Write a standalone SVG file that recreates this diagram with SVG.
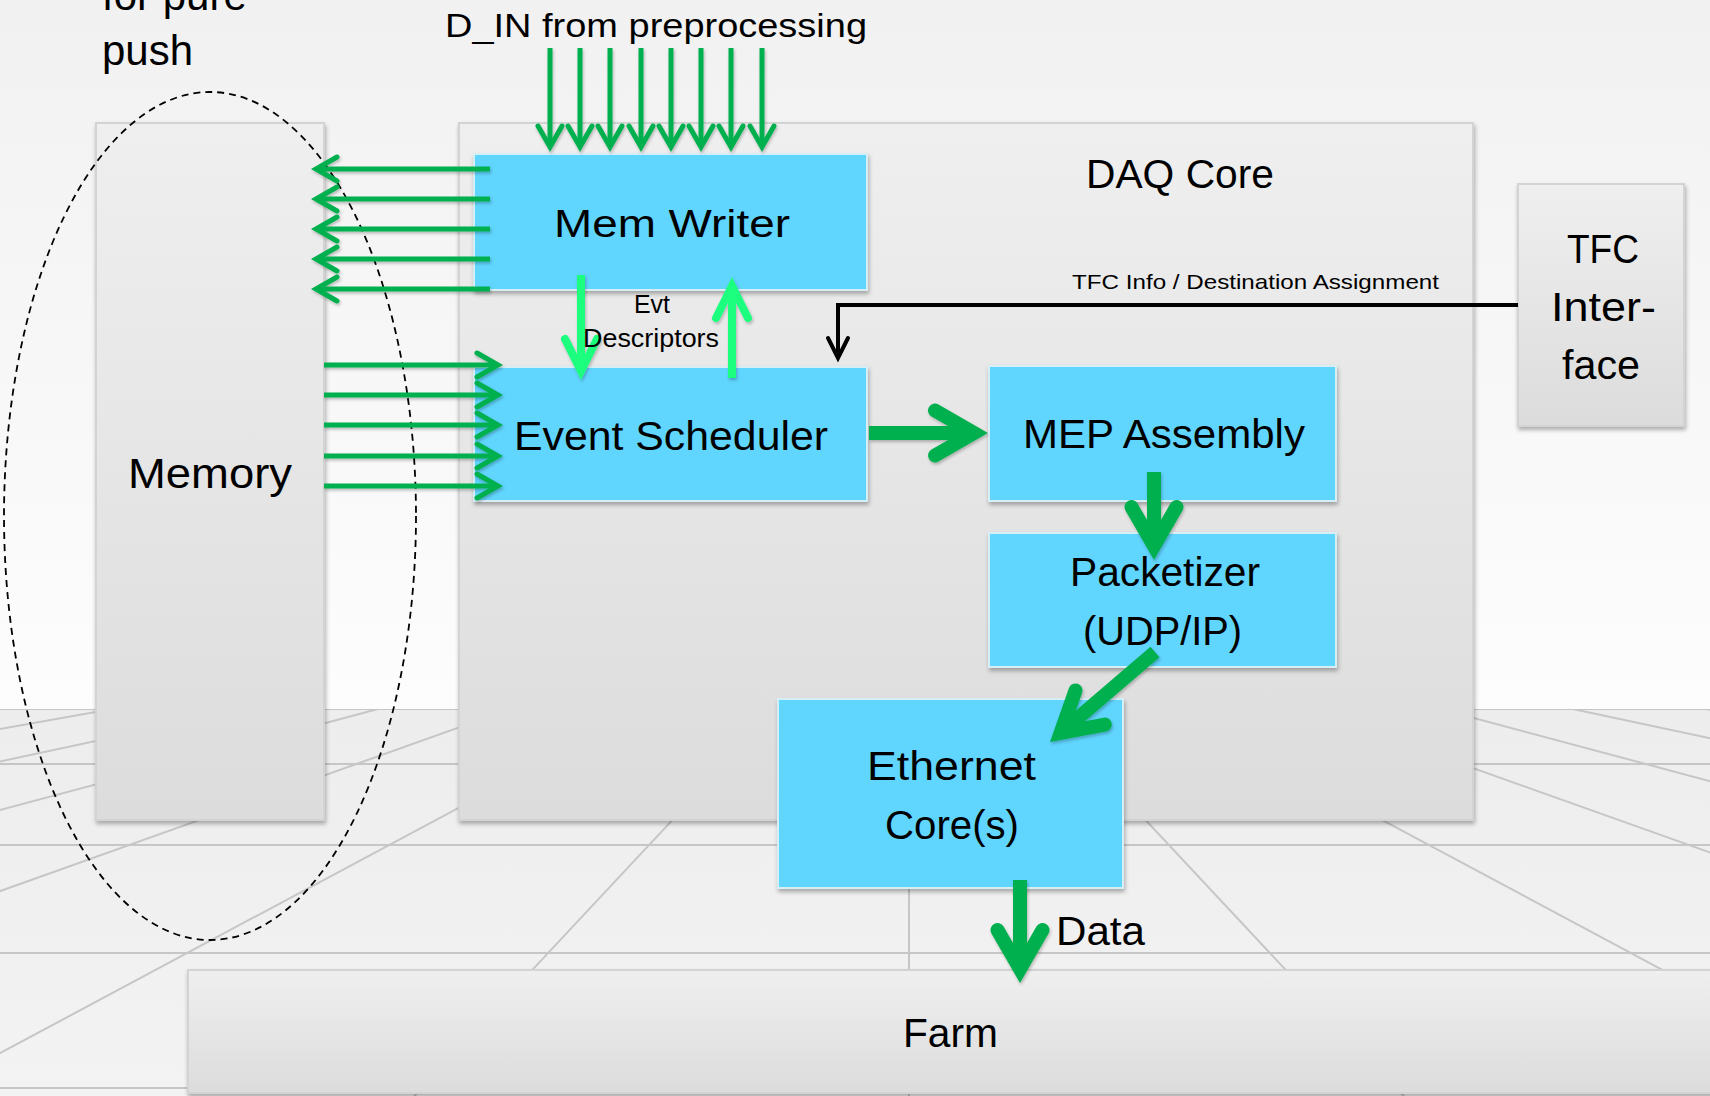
<svg xmlns="http://www.w3.org/2000/svg" width="1710" height="1096" viewBox="0 0 1710 1096">
<style>
.box{fill:url(#gGray);stroke:#d3d3d3;stroke-width:2;filter:url(#shadow)}
.blue{fill:#61d5fe;stroke:#d8eef5;stroke-width:2;filter:url(#shadow)}
.t{font-family:"Liberation Sans",Arial,sans-serif;fill:#000}
.floor{stroke:#c6c6c6;stroke-width:2;fill:none}
.thin{stroke:#00b050;stroke-width:5;fill:none;marker-end:url(#mThin)}
.lg{stroke:#1eff7e;stroke-width:8;fill:none;marker-end:url(#mLg)}
.blk{stroke:#000;stroke-width:4;fill:none;marker-end:url(#mBlk)}
.thick{stroke:#00b050;stroke-width:14;fill:none;marker-end:url(#mThick)}
</style>
<defs>
<linearGradient id="gGray" x1="0" y1="0" x2="0" y2="1">
<stop offset="0" stop-color="#efefef"/>
<stop offset="1" stop-color="#dcdcdc"/>
</linearGradient>
<linearGradient id="gBg" gradientUnits="userSpaceOnUse" x1="0" y1="0" x2="0" y2="709">
<stop offset="0" stop-color="#f1f1f1"/>
<stop offset="1" stop-color="#fdfdfd"/>
</linearGradient>
<linearGradient id="gFloor" gradientUnits="userSpaceOnUse" x1="0" y1="709" x2="0" y2="1096">
<stop offset="0" stop-color="#ededed"/>
<stop offset="1" stop-color="#f3f3f3"/>
</linearGradient>
<filter id="shadow" x="-5%" y="-5%" width="112%" height="115%">
<feDropShadow dx="1" dy="3" stdDeviation="2" flood-color="#000" flood-opacity="0.3"/>
</filter>
<filter id="ashadow" x="-10%" y="-10%" width="120%" height="120%">
<feDropShadow dx="1" dy="2" stdDeviation="1.5" flood-color="#000" flood-opacity="0.25"/>
</filter>
<clipPath id="floorClip"><rect x="0" y="709" width="1710" height="387"/></clipPath>
<marker id="mThin" markerUnits="userSpaceOnUse" orient="auto" overflow="visible" markerWidth="1" markerHeight="1" refX="0" refY="0">
<path d="M-21,-12 L0,0 L-21,12" fill="none" stroke="#00b050" stroke-width="5" stroke-linecap="round" stroke-linejoin="miter"/>
</marker>
<marker id="mLg" markerUnits="userSpaceOnUse" orient="auto" overflow="visible" markerWidth="1" markerHeight="1" refX="0" refY="0">
<path d="M-32,-16 L0,0 L-32,16" fill="none" stroke="#1eff7e" stroke-width="8" stroke-linecap="round" stroke-linejoin="miter"/>
</marker>
<marker id="mBlk" markerUnits="userSpaceOnUse" orient="auto" overflow="visible" markerWidth="1" markerHeight="1" refX="0" refY="0">
<path d="M-20,-10 L0,0 L-20,10" fill="none" stroke="#000" stroke-width="4" stroke-linecap="round" stroke-linejoin="miter"/>
</marker>
<marker id="mThick" markerUnits="userSpaceOnUse" orient="auto" overflow="visible" markerWidth="1" markerHeight="1" refX="0" refY="0">
<path d="M-39,-22.5 L0,0 L-39,22.5" fill="none" stroke="#00b050" stroke-width="14" stroke-linecap="round" stroke-linejoin="miter"/>
</marker>
</defs>

<g id="background">
<rect x="0" y="0" width="1710" height="709" fill="url(#gBg)"/>
<rect x="0" y="709" width="1710" height="387" fill="url(#gFloor)"/>
<g class="floor" clip-path="url(#floorClip)">
<line x1="909" y1="567" x2="-32751" y2="6567"/>
<line x1="909" y1="567" x2="-27141" y2="6567"/>
<line x1="909" y1="567" x2="-21531" y2="6567"/>
<line x1="909" y1="567" x2="-15921" y2="6567"/>
<line x1="909" y1="567" x2="-10311" y2="6567"/>
<line x1="909" y1="567" x2="-4701" y2="6567"/>
<line x1="909" y1="567" x2="909" y2="6567"/>
<line x1="909" y1="567" x2="6519" y2="6567"/>
<line x1="909" y1="567" x2="12129" y2="6567"/>
<line x1="909" y1="567" x2="17739" y2="6567"/>
<line x1="909" y1="567" x2="23349" y2="6567"/>
<line x1="909" y1="567" x2="28959" y2="6567"/>
<line x1="909" y1="567" x2="34569" y2="6567"/>
<line x1="0" y1="709" x2="1710" y2="709"/>
<line x1="0" y1="764" x2="1710" y2="764"/>
<line x1="0" y1="845" x2="1710" y2="845"/>
<line x1="0" y1="953" x2="1710" y2="953"/>
<line x1="0" y1="1088" x2="1710" y2="1088"/>
</g>
</g>

<g id="caption">
<text class="t" x="102" y="10" font-size="42">for pure</text>
<text class="t" x="102" y="65" font-size="42">push</text>
<text class="t" x="445" y="37" font-size="34" textLength="422" lengthAdjust="spacingAndGlyphs">D_IN from preprocessing</text>
</g>

<g id="memory">
<rect class="box" x="96" y="123" width="228" height="697"/>
<text class="t" x="128" y="488" font-size="42" textLength="164" lengthAdjust="spacingAndGlyphs">Memory</text>
</g>

<g id="daq-core">
<rect class="box" x="459" y="123" width="1014" height="697"/>
<text class="t" x="1086" y="188" font-size="40" textLength="188" lengthAdjust="spacingAndGlyphs">DAQ Core</text>
</g>

<g id="tfc-interface">
<rect class="box" x="1518" y="184" width="166" height="242"/>
<text class="t" x="1567" y="263" font-size="41" textLength="72" lengthAdjust="spacingAndGlyphs">TFC</text>
<text class="t" x="1551" y="321" font-size="41" textLength="105" lengthAdjust="spacingAndGlyphs">Inter-</text>
<text class="t" x="1562" y="379" font-size="41" textLength="78" lengthAdjust="spacingAndGlyphs">face</text>
</g>

<g id="farm">
<rect class="box" x="188" y="970" width="1540" height="123"/>
<text class="t" x="903" y="1047" font-size="40" textLength="95" lengthAdjust="spacingAndGlyphs">Farm</text>
</g>

<g id="mem-writer">
<rect class="blue" x="474" y="154" width="393" height="136"/>
<text class="t" x="554" y="237" font-size="39" textLength="236" lengthAdjust="spacingAndGlyphs">Mem Writer</text>
</g>

<g id="event-scheduler">
<rect class="blue" x="474" y="367" width="393" height="134"/>
<text class="t" x="514" y="450" font-size="40" textLength="314" lengthAdjust="spacingAndGlyphs">Event Scheduler</text>
</g>

<g id="mep-assembly">
<rect class="blue" x="989" y="366" width="347" height="135"/>
<text class="t" x="1023" y="448" font-size="40" textLength="282" lengthAdjust="spacingAndGlyphs">MEP Assembly</text>
</g>

<g id="packetizer">
<rect class="blue" x="989" y="533" width="347" height="134"/>
<text class="t" x="1070" y="586" font-size="40" textLength="190" lengthAdjust="spacingAndGlyphs">Packetizer</text>
<text class="t" x="1083" y="645" font-size="40" textLength="159" lengthAdjust="spacingAndGlyphs">(UDP/IP)</text>
</g>

<g id="ethernet-core">
<rect class="blue" x="778" y="699" width="345" height="189"/>
<text class="t" x="867" y="780" font-size="40" textLength="169" lengthAdjust="spacingAndGlyphs">Ethernet</text>
<text class="t" x="885" y="839" font-size="40" textLength="134" lengthAdjust="spacingAndGlyphs">Core(s)</text>
</g>

<g id="pure-push-outline">
<ellipse cx="210" cy="516" rx="206" ry="424" fill="none" stroke="#000" stroke-width="1.8" stroke-dasharray="7 5"/>
</g>

<g id="connectors">
<g filter="url(#ashadow)">
<path class="thin" d="M550,48 V147"/>
<path class="thin" d="M580,48 V147"/>
<path class="thin" d="M610,48 V147"/>
<path class="thin" d="M641,48 V147"/>
<path class="thin" d="M671,48 V147"/>
<path class="thin" d="M701,48 V147"/>
<path class="thin" d="M731,48 V147"/>
<path class="thin" d="M762,48 V147"/>
<path class="thin" d="M490,169 H316"/>
<path class="thin" d="M490,199 H316"/>
<path class="thin" d="M490,229 H316"/>
<path class="thin" d="M490,259 H316"/>
<path class="thin" d="M490,289 H316"/>
<path class="thin" d="M324,365 H498"/>
<path class="thin" d="M324,395 H498"/>
<path class="thin" d="M324,425 H498"/>
<path class="thin" d="M324,456 H498"/>
<path class="thin" d="M324,486 H498"/>
<path class="lg" d="M581,275 V371"/>
<path class="lg" d="M732,378 V286"/>
<path class="thick" d="M869,433 H974"/>
<path class="thick" d="M1154,472 V546"/>
<path class="thick" d="M1155,652 L1060.6,732.9"/>
<path class="thick" d="M1020,880 V969"/>
</g>
<path class="blk" d="M1518,305 H838 V358"/>
<text class="t" x="1072" y="289" font-size="21" textLength="367" lengthAdjust="spacingAndGlyphs">TFC Info / Destination Assignment</text>
<text class="t" x="634" y="313" font-size="25" textLength="36" lengthAdjust="spacingAndGlyphs">Evt</text>
<text class="t" x="583" y="347" font-size="25" textLength="136" lengthAdjust="spacingAndGlyphs">Descriptors</text>
<text class="t" x="1056" y="945" font-size="40" textLength="89" lengthAdjust="spacingAndGlyphs">Data</text>
</g>
</svg>
